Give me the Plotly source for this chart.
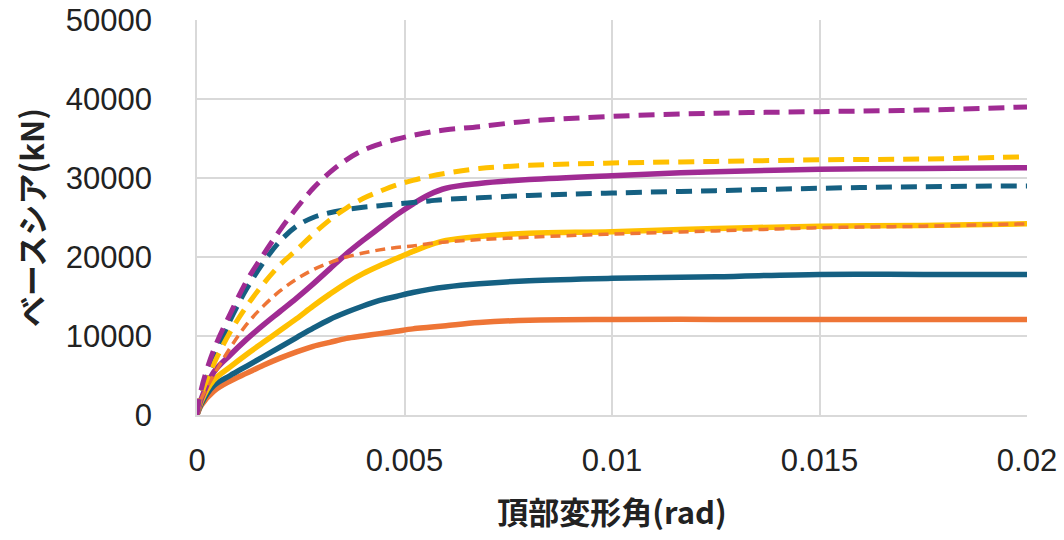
import plotly.graph_objects as go

drift = [0, 0.0001, 0.0004, 0.0008, 0.0012, 0.0016, 0.002, 0.0024, 0.0028, 0.0032,
         0.0036, 0.004, 0.0044, 0.0048, 0.0052, 0.0056, 0.006, 0.0068, 0.008, 0.01,
         0.0125, 0.015, 0.0175, 0.02]

purple_dash = [0, 3200, 8200, 12800, 17000, 20300, 23400, 26200, 28700, 30700, 32300, 33500,
               34300, 34900, 35400, 35800, 36100, 36500, 37200, 37800, 38200, 38400, 38600, 39000]
yellow_dash = [0, 2500, 6400, 10500, 13800, 16600, 19000, 20900, 22900, 24700, 26200, 27400,
               28300, 29100, 29700, 30200, 30600, 31200, 31600, 31900, 32100, 32300, 32400, 32700]
purple_solid = [0, 2000, 5400, 7600, 9600, 11400, 13100, 14800, 16600, 18500, 20400, 22100,
                23700, 25300, 26700, 27900, 28700, 29300, 29800, 30300, 30800, 31100, 31200, 31300]
teal_dash = [0, 2600, 7000, 12000, 16000, 19300, 22000, 23900, 25000, 25600, 26000, 26300,
             26500, 26700, 26900, 27100, 27300, 27500, 27800, 28100, 28400, 28700, 28900, 29000]
yellow_solid = [0, 1700, 4400, 6100, 7700, 9200, 10700, 12200, 13800, 15300, 16700, 17900,
                18900, 19800, 20700, 21500, 22100, 22600, 23000, 23200, 23600, 23900, 24000, 24200]
orange_dash = [0, 2000, 5000, 8500, 11500, 13800, 15700, 17200, 18400, 19300, 20000, 20500,
               20900, 21200, 21400, 21700, 21900, 22200, 22500, 22900, 23300, 23700, 23900, 24200]
teal_solid = [0, 1400, 3700, 5000, 6200, 7400, 8600, 9800, 11000, 12100, 13000, 13800,
              14500, 15000, 15500, 15900, 16200, 16600, 17000, 17300, 17500, 17800, 17800, 17800]
orange_solid = [0, 1200, 3000, 4300, 5300, 6300, 7200, 8000, 8700, 9200, 9700, 10000,
                10300, 10600, 10900, 11100, 11300, 11700, 12000, 12100, 12100, 12100, 12100, 12100]

x_ticks = [0, 0.005, 0.01, 0.015, 0.02]
x_tick_labels = ["0", "0.005", "0.01", "0.015", "0.02"]
y_ticks = [0, 10000, 20000, 30000, 40000, 50000]
y_tick_labels = ["0", "10000", "20000", "30000", "40000", "50000"]

TEAL = "#156082"
ORANGE = "#EE7536"
YELLOW = "#FFC000"
PURPLE = "#A02B93"

series = [
    (orange_solid, ORANGE, 5.5, "solid"),
    (teal_solid, TEAL, 5.5, "solid"),
    (yellow_solid, YELLOW, 5.5, "solid"),
    (purple_solid, PURPLE, 5.5, "solid"),
    (orange_dash, ORANGE, 3.5, "10px,6px"),
    (teal_dash, TEAL, 5, "16px,9px"),
    (yellow_dash, YELLOW, 5, "16px,9px"),
    (purple_dash, PURPLE, 5, "16px,9px"),
]

fig = go.Figure()
for ys, col, w, dash in series:
    fig.add_trace(go.Scatter(x=drift, y=ys, mode="lines",
                             line=dict(color=col, width=w, dash=dash, shape="spline", smoothing=1.0),
                             showlegend=False, hoverinfo="skip"))

fig.update_layout(
    width=1064, height=540,
    margin=dict(l=197, r=37, t=20, b=125),
    paper_bgcolor="white", plot_bgcolor="white",
    font=dict(family="Liberation Sans, Arial, sans-serif", size=31, color="#222222"),
)
fig.update_xaxes(
    range=[0, 0.02], tickvals=x_ticks, ticktext=x_tick_labels,
    showgrid=True, gridcolor="#D9D9D9", gridwidth=1.5,
    showline=True, linecolor="#D9D9D9", linewidth=1.5,
    zeroline=False, ticks="", ticklabelstandoff=17, automargin=False,
    title=dict(text="頂部変形角(rad)", standoff=25,
               font=dict(family="Noto Sans CJK JP", size=31, color="#222222", weight="bold")),
)
fig.update_yaxes(
    range=[0, 50000], tickvals=y_ticks, ticktext=y_tick_labels,
    showgrid=True, gridcolor="#D9D9D9", gridwidth=1.5,
    showline=True, linecolor="#D9D9D9", linewidth=1.5,
    zeroline=False, ticks="", ticklabelstandoff=37, automargin=False,
    title=dict(text="ベースシア(kN)", standoff=12,
               font=dict(family="Noto Sans CJK JP", size=31, color="#222222", weight="bold")),
)

fig.write_html("out.html")
